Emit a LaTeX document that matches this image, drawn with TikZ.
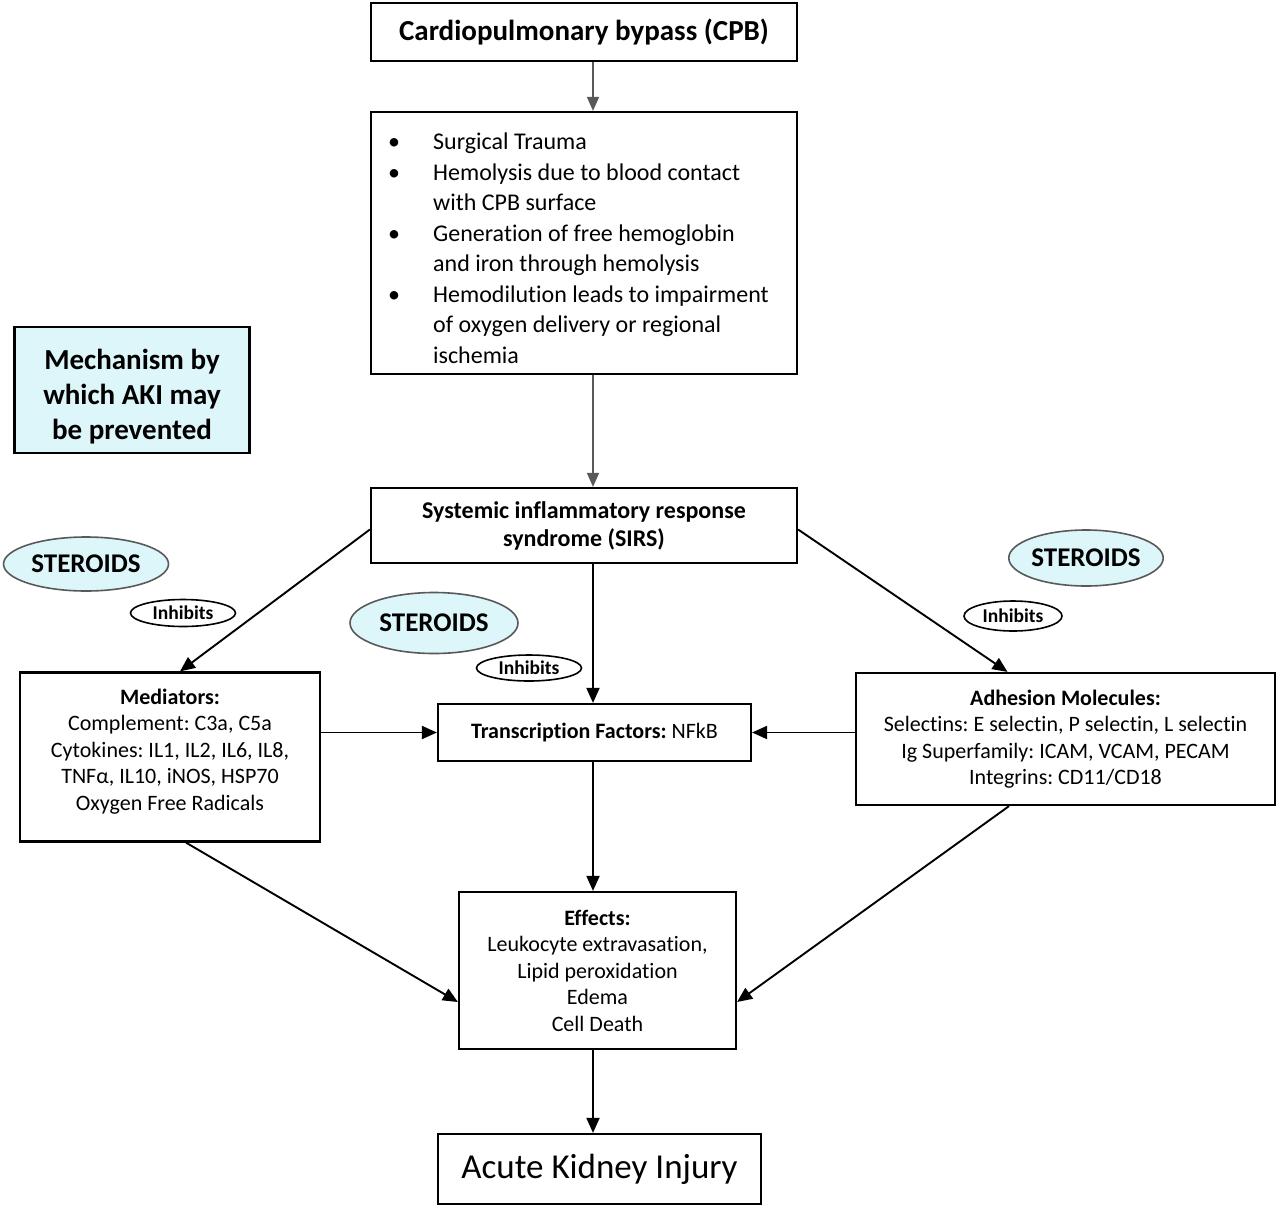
\documentclass[tikz,border=0pt]{standalone}
\usepackage{fontspec}
\setmainfont{Carlito}[Ligatures=NoCommon]
\usetikzlibrary{shapes.geometric,arrows.meta,calc}
\definecolor{lightcy}{RGB}{220,246,250}
\definecolor{arrgray}{RGB}{90,90,90}
\tikzset{
  box/.style={draw=black,line width=2.2pt,rectangle,inner sep=0pt,align=center},
  oval/.style={draw=black!65,line width=1.6pt,ellipse,fill=lightcy,inner sep=0pt,font=\fontsize{27}{30}\selectfont\bfseries},
  inh/.style={draw=black,line width=1.6pt,ellipse,fill=white,inner sep=0pt,font=\fontsize{19.5}{22}\selectfont\bfseries},
  arr/.style={draw=black,line width=1.9pt,-{Triangle[length=15pt,width=13pt]}},
  garr/.style={draw=arrgray,line width=1.6pt,-{Triangle[length=14pt,width=12pt]}},
}
\begin{document}
\frenchspacing
\begin{tikzpicture}[x=1pt,y=-1pt]
\useasboundingbox (0,0) rectangle (1280,1208);
\coordinate (ax) at (593,0);
% boxes
\node[box,minimum width=426pt,minimum height=58pt,font=\fontsize{29}{33}\selectfont\bfseries] (cpb) at (584,32) {Cardiopulmonary bypass (CPB)};
\node[box,minimum width=426pt,minimum height=262pt] (bul) at (584,243) {};
\node[anchor=north west,inner sep=0pt,align=left,font=\fontsize{24}{30.5}\selectfont] (bultext) at (388,133)
 {\makebox[45pt][l]{\textbullet}Surgical Trauma\\
  \makebox[45pt][l]{\textbullet}Hemolysis due to blood contact\\
  \hspace*{45pt}with CPB surface\\
  \makebox[45pt][l]{\textbullet}Generation of free hemoglobin\\
  \hspace*{45pt}and iron through hemolysis\\
  \makebox[45pt][l]{\textbullet}Hemodilution leads to impairment\\
  \hspace*{45pt}of oxygen delivery or regional\\
  \hspace*{45pt}ischemia};
\node[box,fill=lightcy,minimum width=235pt,minimum height=126pt] (mech) at (132,390) {};
\node[inner sep=0pt,align=center,font=\fontsize{29}{35}\selectfont\bfseries] (mechtext) at (132,397) {Mechanism by\\which AKI may\\be prevented};
\node[box,minimum width=426pt,minimum height=75pt,font=\fontsize{24}{28}\selectfont\bfseries] (sirs) at (584,525.5) {Systemic inflammatory response\\syndrome (SIRS)};
\node[box,minimum width=300pt,minimum height=169pt,font=\fontsize{22}{26.5}\selectfont] (med) at (170,757)
 {\textbf{Mediators:}\\Complement: C3a, C5a\\Cytokines: IL1, IL2, IL6, IL8,\\TNFα, IL10, iNOS, HSP70\\Oxygen Free Radicals\\[-12pt]\mbox{}};
\node[box,minimum width=313pt,minimum height=57pt,font=\fontsize{22}{26}\selectfont] (tf) at (594.5,732.5) {\textbf{Transcription Factors:} NFkB};
\node[box,minimum width=419pt,minimum height=132pt,font=\fontsize{22}{26.5}\selectfont] (adh) at (1065.5,739)
 {\textbf{Adhesion Molecules:}\\Selectins: E selectin, P selectin, L selectin\\Ig Superfamily: ICAM, VCAM, PECAM\\Integrins: CD11/CD18};
\node[box,minimum width=277pt,minimum height=157pt,font=\fontsize{22}{26.5}\selectfont] (eff) at (597.5,970.5)
 {\textbf{Effects:}\\Leukocyte extravasation,\\Lipid peroxidation\\Edema\\Cell Death};
\node[box,minimum width=323pt,minimum height=70pt,font=\fontsize{35}{40}\selectfont] (aki) at (599.5,1169) {Acute Kidney Injury};
% ovals
\node[oval,minimum width=165pt,minimum height=54pt] (st1) at (86,564) {STEROIDS};
\node[inh,minimum width=105pt,minimum height=27pt] (in1) at (183,613) {Inhibits};
\node[oval,minimum width=168pt,minimum height=61pt] (st2) at (434,623) {STEROIDS};
\node[inh,minimum width=105pt,minimum height=26pt] (in2) at (529,668) {Inhibits};
\node[oval,minimum width=151pt,minimum height=56pt] (st3) at (1086,558) {STEROIDS};
\node[inh,minimum width=98pt,minimum height=30pt] (in3) at (1013,616) {Inhibits};
% connectors
\draw[garr] (cpb.south -| ax) -- (bul.north -| ax);
\draw[garr] (bul.south -| ax) -- (sirs.north -| ax);
\draw[arr] ([yshift=-4pt]sirs.west) -- ([xshift=10pt]med.north);
\draw[arr] ([yshift=-4pt]sirs.east) -- ([xshift=-58pt]adh.north);
\draw[arr] (sirs.south -| ax) -- (tf.north -| ax);
\draw[arr] (tf.west -| med.east) -- (tf.west);
\draw[arr] (tf.east -| adh.west) -- (tf.east);
\draw[arr] (tf.south -| ax) -- (eff.north -| ax);
\draw[arr] ([xshift=16pt]med.south) -- ([yshift=-31.5pt]eff.west);
\draw[arr] ([xshift=-56.5pt]adh.south) -- ([yshift=-31.5pt]eff.east);
\draw[arr] (eff.south -| ax) -- (aki.north -| ax);
\end{tikzpicture}
\end{document}
